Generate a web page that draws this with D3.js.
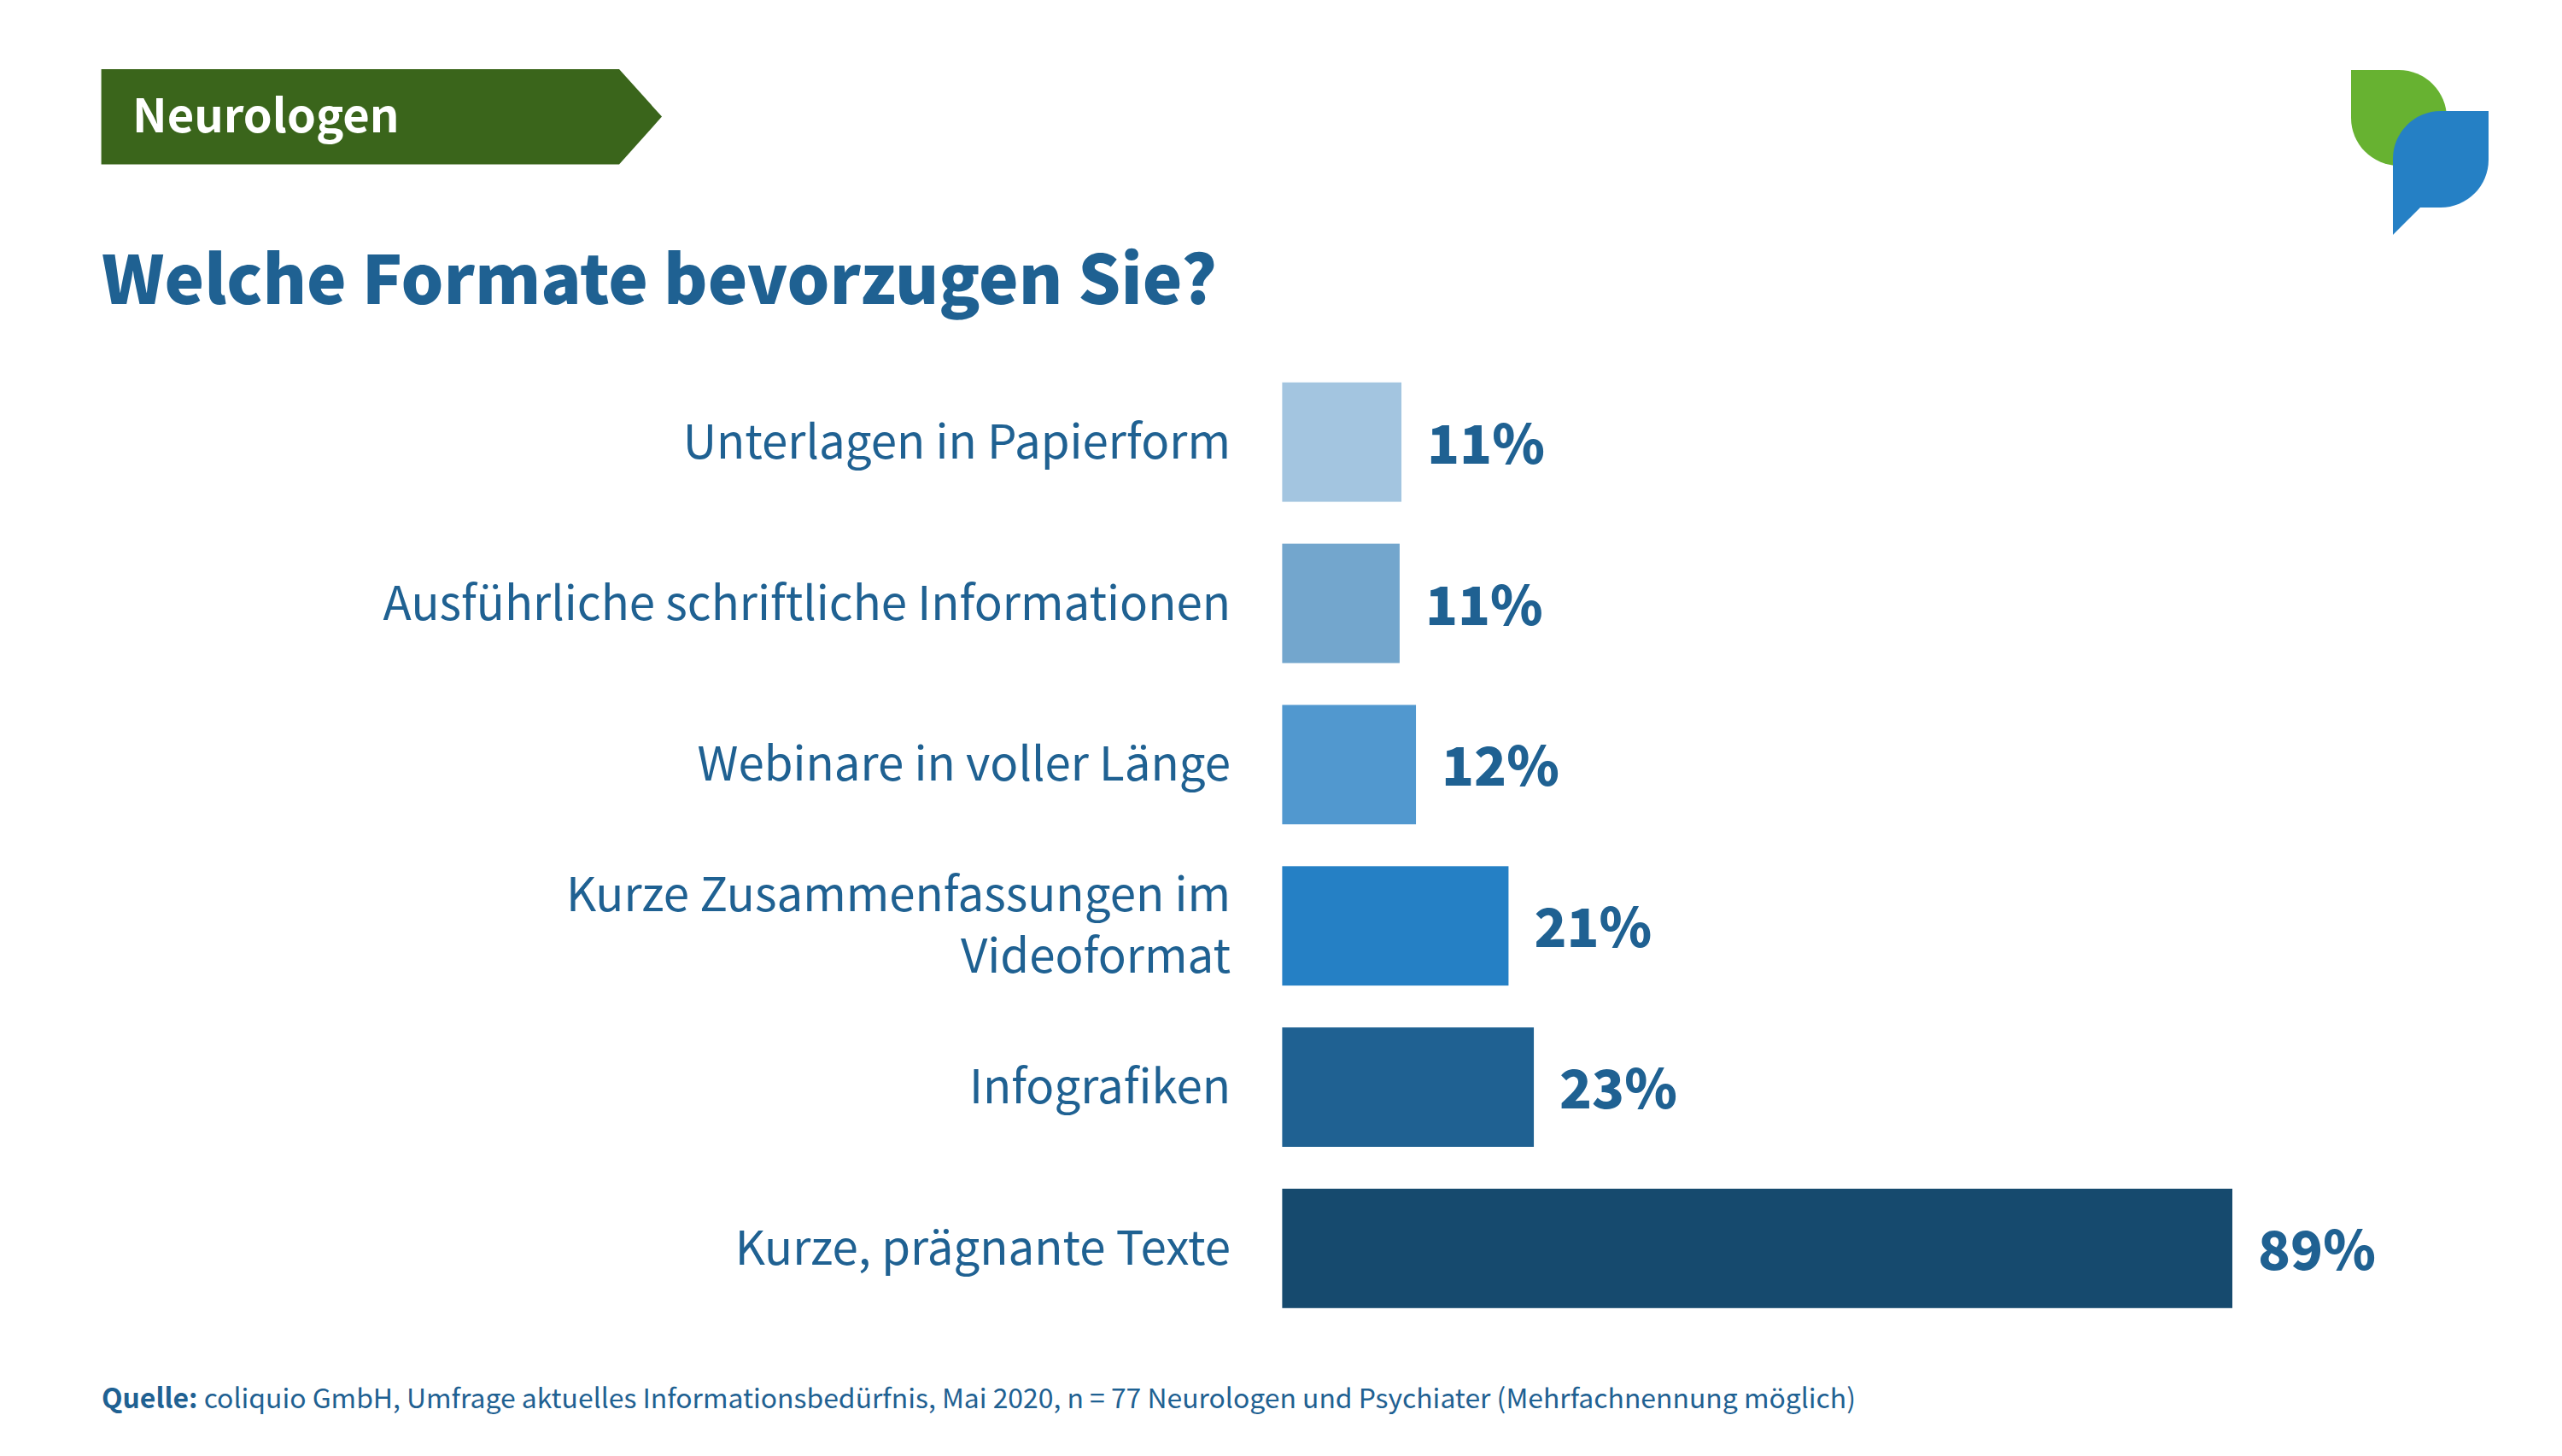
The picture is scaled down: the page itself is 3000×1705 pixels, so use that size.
<!DOCTYPE html>
<html lang="de">
<head>
<meta charset="utf-8">
<title>Welche Formate bevorzugen Sie?</title>
<script src="https://cdnjs.cloudflare.com/ajax/libs/d3/7.8.5/d3.min.js"></script>
<style>
  html, body { margin: 0; padding: 0; background: #fff; }
  svg { display: block; }
  text { font-family: "Noto Sans CJK SC", "Noto Sans", sans-serif; fill: #1f6192; }
</style>
</head>
<body>
<svg class="chart" width="3000" height="1705"></svg>
<script>
// top to bottom as printed, "\n" is the line break in the label
var categories = [
  "Unterlagen in Papierform",
  "Ausführliche schriftliche Informationen",
  "Webinare in voller Länge",
  "Kurze Zusammenfassungen im\nVideoformat",
  "Infografiken",
  "Kurze, prägnante Texte"
];
// bar lengths as measured, they differ a little from the rounded labels
var shares = [11.17, 11.0, 12.53, 21.2, 23.57, 89];
var shareLabels = ["11%", "11%", "12%", "21%", "23%", "89%"];

var barColors = ["#a3c5e0", "#73a6cd", "#5198cf", "#2580c5", "#1f6192", "#164a6e"];

var svg = d3.select (".chart");

var x = d3.scaleLinear ()
  .domain ([0, 89])
  .range ([1501.4, 2614]);

var y = d3.scaleBand ()
  .domain (categories)
  .range ([447.8, 1531.8])
  .paddingInner (0.2597);

var color = d3.scaleOrdinal ()
  .domain (categories)
  .range (barColors);

// header
svg.append ("path")
  .attr ("d", "M118.6,81 H725 L775,136.6 L725,192.5 H118.6 Z")
  .attr ("fill", "#3a651b");

svg.append ("text")
  .attr ("x", 155)
  .attr ("y", 155)
  .attr ("font-size", 54.3)
  .attr ("font-weight", 700)
  .style ("fill", "#fff")
  .text ("Neurologen");

svg.append ("text")
  .attr ("x", 119)
  .attr ("y", 356)
  .attr ("font-size", 78.5)
  .attr ("font-weight", 900)
  .text ("Welche Formate bevorzugen Sie?");

// logo
svg.append ("path")
  .attr ("d", "M2753,82 H2809 A56,56 0 0 1 2865,138 V194 H2809 A56,56 0 0 1 2753,138 Z")
  .attr ("fill", "#67b231");

svg.append ("path")
  .attr ("d", "M2914,130 V187 A56,56 0 0 1 2858,243 H2834 L2802,275 V186 A56,56 0 0 1 2858,130 Z")
  .attr ("fill", "#2580c5");

// bars
svg.append ("g")
  .selectAll ("rect")
  .data (categories)
  .enter ()
  .append ("rect")
  .attr ("x", x (0))
  .attr ("y", function (d) { return y (d); })
  .attr ("width", function (d, i) { return x (shares[i]) - x (0); })
  .attr ("height", y.bandwidth ())
  .attr ("fill", function (d) { return color (d); });

// value labels
svg.append ("g")
  .selectAll ("text")
  .data (categories)
  .enter ()
  .append ("text")
  .attr ("x", function (d, i) { return x (shares[i]) + 30; })
  .attr ("y", function (d) { return y (d) + y.bandwidth () / 2 + 25; })
  .attr ("font-size", 62.5)
  .attr ("font-weight", 900)
  .text (function (d, i) { return shareLabels[i]; });

// category labels
var yAxis = d3.axisLeft (y)
  .tickSize (0)
  .tickPadding (0)
  .tickFormat (function () { return ""; });

var axis = svg.append ("g")
  .attr ("transform", "translate(1441,0)")
  .call (yAxis);

axis.select (".domain").remove ();

axis.selectAll (".tick text")
  .attr ("font-size", 54.6)
  .attr ("font-family", null)
  .each (function (d) {
    var lines = d.split ("\n");
    d3.select (this)
      .attr ("dy", null)
      .selectAll ("tspan")
      .data (lines)
      .enter ()
      .append ("tspan")
      .attr ("x", 0)
      .attr ("y", function (l, i) { return 19 + (i - (lines.length - 1) / 2) * 72; })
      .text (function (l) { return l; });
  });

// source line
var source = svg.append ("text")
  .attr ("x", 119)
  .attr ("y", 1649)
  .attr ("font-size", 31.9);

source.append ("tspan")
  .attr ("font-weight", 700)
  .text ("Quelle: ");

source.append ("tspan")
  .text ("coliquio GmbH, Umfrage aktuelles Informationsbedürfnis, Mai 2020, n = 77 Neurologen und Psychiater (Mehrfachnennung möglich)");
</script>
</body>
</html>
